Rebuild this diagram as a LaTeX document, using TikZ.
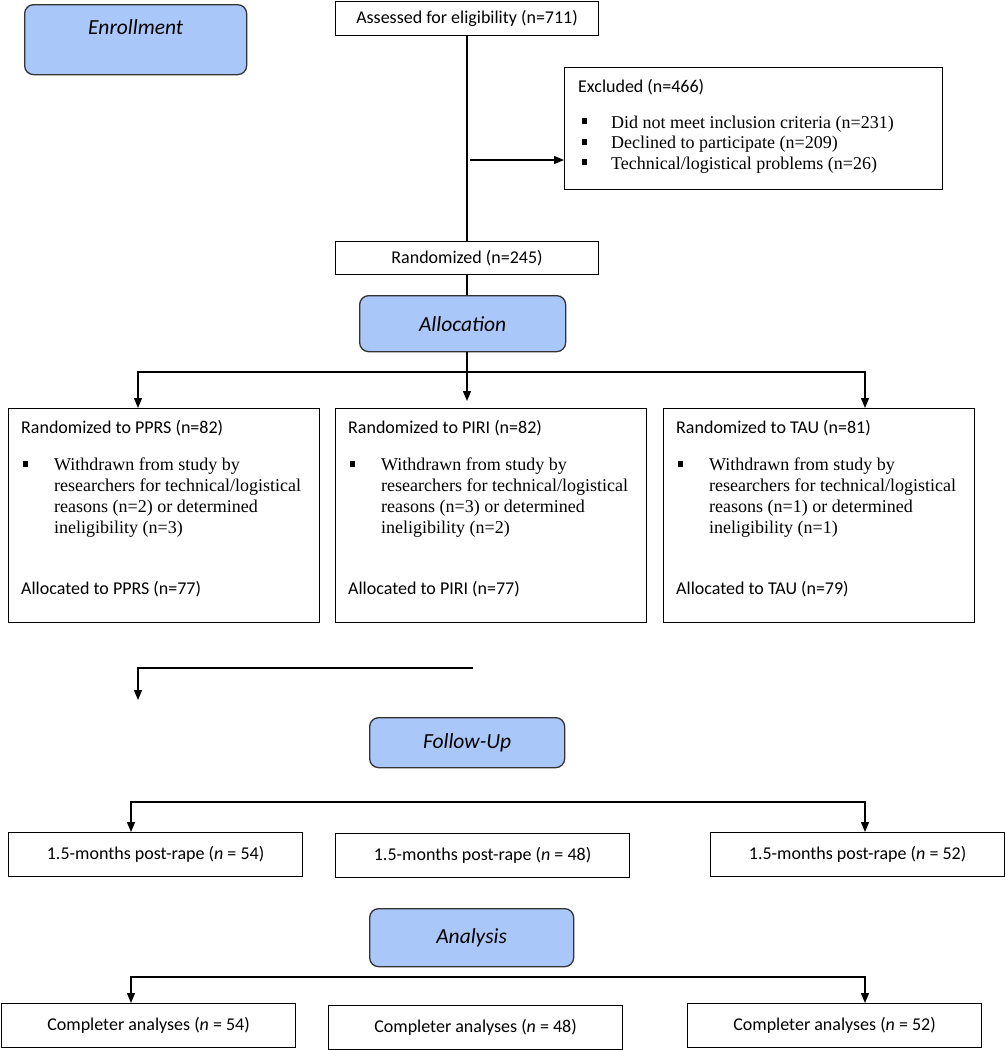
\documentclass[tikz,border=0pt]{standalone}
\usepackage{fontspec}
\setmainfont{Carlito}
\newfontfamily\timesfont{Liberation Serif}
\usetikzlibrary{calc, arrows.meta}
\definecolor{stageblue}{RGB}{170,199,250}
\newcommand{\sqbullet}{\rule[4pt]{5pt}{6pt}}

\begin{document}
\begin{tikzpicture}[x=1pt, y=-1pt,
    box/.style={draw=black, line width=1.1pt, inner sep=0pt, font=\fontsize{18}{21}\selectfont},
    stage/.style={draw=black!80, fill=stageblue, line width=1.3pt, rounded corners=9pt, font=\itshape\fontsize{21.5}{24}\selectfont},
    boxtext/.style={anchor=base west, inner sep=0pt, font=\fontsize{18}{21}\selectfont},
    listtext/.style={anchor=base west, inner sep=0pt, align=left, font=\timesfont\fontsize{18}{20.7}\selectfont},
    flow/.style={black, line width=1.3pt},
    >={Triangle[length=10pt, width=8pt]}]
    \useasboundingbox (0, 0) rectangle (1005, 1050);

    % enrollment
    \node[stage, minimum width=222, text height=25, text depth=35, inner ysep=5, anchor=north west] (enrollment) at (24, 4) {Enrollment};
    \node[box, minimum width=263, minimum height=34, anchor=north west] (assessed) at (335, 0.5) {Assessed for eligibility (n=711)};

    \node[box, minimum width=378, minimum height=122, anchor=north west] (excluded) at (564, 67) {};
    \node[boxtext] (excluded_title) at ($(excluded.north west) + (14, 25)$) {Excluded (n=466)};
    % base of a multi-line node is its last line
    \node[listtext] (excluded_list) at ($(excluded.north west) + (18, 102.4)$)
        {\sqbullet\hspace{24pt}Did not meet inclusion criteria (n=231)\\
         \sqbullet\hspace{24pt}Declined to participate (n=209)\\
         \sqbullet\hspace{24pt}Technical/logistical problems (n=26)};

    \node[box, minimum width=263, minimum height=33, anchor=north west] (randomized) at (335, 241) {Randomized (n=245)};

    % allocation
    \node[stage, minimum width=206, minimum height=56, anchor=north west] (allocation) at (359, 295) {Allocation};

    \foreach \x/\arm/\nr/\nt/\ni/\na [count=\k] in {8/PPRS/82/2/3/77, 335/PIRI/82/3/2/77, 663/TAU/81/1/1/79} {
        \node[box, minimum width=311, minimum height=214, anchor=north west] (arm\k) at (\x, 408) {};
        \node[boxtext] (arm\k_title) at ($(arm\k.north west) + (13, 25)$) {Randomized to \arm\ (n=\nr)};
        \node[boxtext] (arm\k_bullet) at ($(arm\k.north west) + (15, 63)$) {\sqbullet};
        \node[listtext] (arm\k_list) at ($(arm\k.north west) + (46, 125)$)
            {Withdrawn from study by\\researchers for technical/logistical\\reasons (n=\nt) or determined\\ineligibility (n=\ni)};
        \node[boxtext] (arm\k_alloc) at ($(arm\k.north west) + (13, 186)$) {Allocated to \arm\ (n=\na)};
    }

    % follow-up
    \node[stage, minimum width=195, minimum height=50, anchor=north west] (followup) at (369, 717) {Follow-Up};
    \foreach \x/\y/\n [count=\k] in {8/832/54, 335/833/48, 710/832/52} {
        \node[box, minimum width=294, minimum height=44, anchor=north west] (fu\k) at (\x, \y) {1.5-months post-rape (\textit{n} = \n)};
    }

    % analysis
    \node[stage, minimum width=204, minimum height=58, anchor=north west] (analysis) at (369, 908) {Analysis};
    \foreach \x/\y/\n [count=\k] in {1/1003/54, 328/1005/48, 687/1003/52} {
        \node[box, minimum width=294, minimum height=44, anchor=north west] (ca\k) at (\x, \y) {Completer analyses (\textit{n} = \n)};
    }

    % connectors
    \coordinate (excl_in) at (470, 160);
    \coordinate (alloc_split) at (467, 372);
    \coordinate (lane_l) at (138, 0);
    \coordinate (lane_r) at (865, 0);
    \coordinate (lane_fl) at (131, 0);
    \coordinate (fu_from) at (473, 668);
    \coordinate (fu_to) at (138, 700);
    \coordinate (fu_split) at (466, 802);
    \coordinate (an_split) at (466, 977);

    \draw[flow] (assessed.south) -- (randomized.north);
    \draw[flow, ->] (excl_in) -- (excl_in -| excluded.west);
    \draw[flow] (randomized.south) -- (randomized.south |- allocation.north);
    \draw[flow] (allocation.south -| alloc_split) -- (alloc_split);
    \draw[flow, <->] (arm1.north -| lane_l) |- (alloc_split) -| (arm3.north -| lane_r);
    \draw[flow, ->, shorten >=7pt] (alloc_split) -- (arm2.north -| alloc_split);
    \draw[flow, ->] (fu_from) -| (fu_to);
    \draw[flow, <->] (fu1.north -| lane_fl) |- (fu_split) -| (fu3.north -| lane_r);
    \draw[flow, <->] (ca1.north -| lane_fl) |- (an_split) -| (ca3.north -| lane_r);
\end{tikzpicture}
\end{document}
